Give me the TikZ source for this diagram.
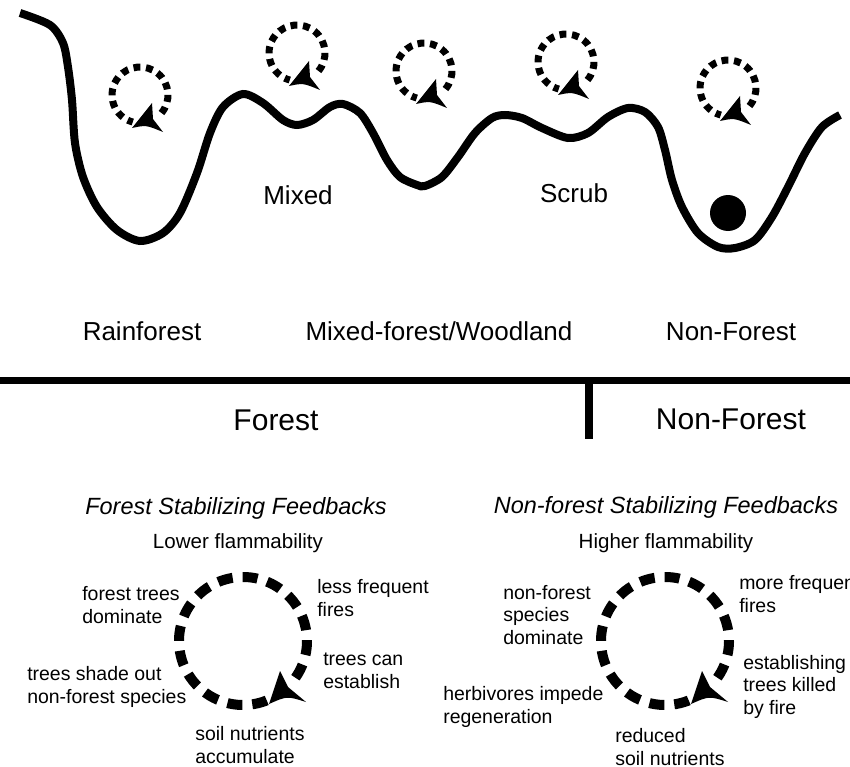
\documentclass[tikz,border=0pt]{standalone}
\usepackage{fontspec}
\setmainfont{Liberation Sans}
\usetikzlibrary{calc}

\begin{document}
\begin{tikzpicture}[x=0.75pt, y=-0.75pt,
  land/.style={line width=6pt},
  sdash/.style={line width=5.25pt, dash pattern=on 5.25pt off 4.2pt},
  bdash/.style={line width=7.5pt, dash pattern=on 11.25pt off 7.5pt},
  lbl/.style={font=\fontsize{19.5}{23}\selectfont, anchor=base},
  big/.style={font=\fontsize{22.5}{27}\selectfont, anchor=base},
  ttl/.style={font=\fontsize{17.6}{21}\selectfont\itshape, anchor=base},
  flam/.style={font=\fontsize{15.4}{18}\selectfont, anchor=base},
  fb/.style={font=\fontsize{14.6}{16.8}\selectfont, align=left, anchor=base west, inner sep=0},
  sloop/.pic={
    \draw[sdash] (40:28) arc[start angle=40, end angle=-255, radius=28];
    \fill (-8,33) -- (12,8) -- (13,24) -- (23,37) .. controls (6,30) .. cycle;
  },
  bloop/.pic={
    \draw[bdash] (35:64) arc[start angle=35, end angle=-295, radius=64];
    \fill (26,63) -- (37,30) -- (45,46) -- (63,61) .. controls (44,55) .. cycle;
  }]
\useasboundingbox (0,0) rectangle (850,767);

\draw[land] plot[smooth, tension=0.5] coordinates {(20,13) (50,25) (63,43) (68,67) (72,100) (75,143) (83,177) (97,207) (117,230) (140,241) (163,233) (180,213) (197,173) (210,133) (223,107) (243,94) (263,103) (283,120) (297,125) (313,120) (330,107) (343,104) (360,113) (373,133) (387,160) (400,177) (417,185) (425,186) (442,177) (458,157) (475,133) (492,118) (505,115) (522,118) (542,128) (568,138) (588,133) (608,117) (628,108) (645,112) (658,127) (665,150) (672,180) (682,207) (698,233) (718,247) (735,248) (755,240) (772,217) (788,187) (805,153) (822,127) (840,115)};

\node[circle, fill, inner sep=0, minimum size=27pt] (ball) at (728,213) {};

\pic at (140,95) {sloop};
\pic at (297,53) {sloop};
\pic at (424,71) {sloop};
\pic at (566,62) {sloop};
\pic at (728,88) {sloop};

\node[lbl] (mixed) at (298,204) {Mixed};
\node[lbl] (scrub) at (574,202) {Scrub};

\node[lbl] (rain) at (142,340) {Rainforest};
\node[lbl] (wood) at (439,340) {Mixed-forest/Woodland};
\node[lbl] (nonf) at (731,340) {Non-Forest};

\coordinate (h1) at (0,380);
\coordinate (h2) at (850,380);
\coordinate (v1) at (589,380);
\coordinate (v2) at (589,439);
\draw[line width=5.25pt] (h1) -- (h2);
\draw[line width=6pt] (v1) -- (v2);

\node[big] (forest) at (276,430) {Forest};
\node[big] (nonforest) at (731,429) {Non-Forest};

\node[ttl] (ft) at (236,514) {Forest Stabilizing Feedbacks};
\node[ttl] (nt) at (666,513) {Non-forest Stabilizing Feedbacks};
\node[flam] (fl) at (238,548) {Lower flammability};
\node[flam] (nl) at (666,548) {Higher flammability};

\pic at (243,641) {bloop};
\pic at (665,641) {bloop};

\node[fb] (f1) at (82,623) {forest trees\\dominate};
\node[fb] (f2) at (317,616) {less frequent\\fires};
\node[fb] (f3) at (323,688) {trees can\\establish};
\node[fb] (f4) at (27,703) {trees shade out\\non-forest species};
\node[fb] (f5) at (195,763) {soil nutrients\\accumulate};

\node[fb] (n1) at (503,644) {non-forest\\species\\dominate};
\node[fb] (n2) at (739,612) {more frequent\\fires};
\node[fb] (n3) at (743,714) {establishing\\trees killed\\by fire};
\node[fb] (n4) at (443,723) {herbivores impede\\regeneration};
\node[fb] (n5) at (615,765) {reduced\\soil nutrients};

\end{tikzpicture}
\end{document}
